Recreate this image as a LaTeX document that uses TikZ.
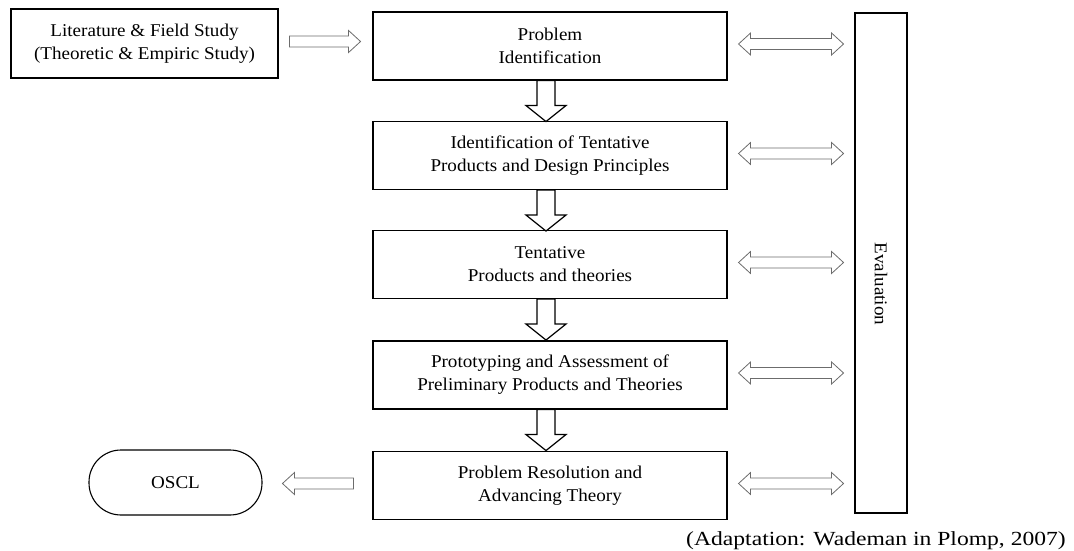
\documentclass[tikz,border=0pt]{standalone}
\usepackage{fontspec}
\setmainfont[FakeStretch=1.06]{Liberation Serif}
\newfontfamily\capfont[FakeStretch=1.18]{Liberation Serif}
\usetikzlibrary{calc}
\begin{document}
\begin{tikzpicture}[x=1pt,y=-1pt,
  txt/.style={font=\fontsize{18}{23}\selectfont},
  box/.style={draw, line width=1.1pt, minimum width=354pt, minimum height=68pt, align=center, txt, inner sep=0pt},
  hollowgray/.style={draw=gray!85!black, line width=0.8pt, fill=white},
  hollowblack/.style={draw=black, line width=1.2pt, fill=white},
  rarrow/.pic={\path[hollowgray] (0,-5.5) -- (59,-5.5) -- (59,-11) -- (71,0) -- (59,11) -- (59,5.5) -- (0,5.5) -- cycle;},
  darrow/.pic={\path[hollowblack] (-9,0) -- (-9,25) -- (-20,25) -- (0,41) -- (20,25) -- (9,25) -- (9,0) -- cycle;},
  dblarrow/.pic={\path[hollowgray] (0,0) -- (12,-11) -- (12,-5.5) -- (93,-5.5) -- (93,-11) -- (105,0) -- (93,11) -- (93,5.5) -- (12,5.5) -- (12,11) -- cycle;}
]
\useasboundingbox (0,0) rectangle (1074,551);

\node[box, minimum width=267pt, minimum height=69pt] (lit) at (144.5,43.5) {Literature \& Field Study\\(Theoretic \& Empiric Study)};
\node[box] (p1) at (550,46) {Problem\\Identification};
\node[box] (p2) at (550,155.5) {Identification of Tentative\\Products and Design Principles};
\node[box] (p3) at (550,264.5) {Tentative\\Products and theories};
\node[box] (p4) at (550,375) {Prototyping and Assessment of\\Preliminary Products and Theories};
\node[box] (p5) at (550,485.5) {Problem Resolution and\\Advancing Theory};

\node[draw, line width=1.1pt, minimum width=52pt, minimum height=500pt, inner sep=0pt] (ev) at (881,263) {};
\node[txt, rotate=-90] (evtext) at (881,284) {Evaluation};

\node[draw, line width=1.1pt, rounded corners=32pt, minimum width=173pt, minimum height=65pt, txt] (oscl) at (175.5,482.5) {OSCL};

\pic at ($(lit.east)+(11,-2)$) {rarrow};
\pic[xscale=-1] at ($(p5.west)+(-19,-2)$) {rarrow};

\foreach \a in {p1,p2,p3,p4}{
  \pic at ($(\a.south)+(-4,0)$) {darrow};
}
\foreach \a in {p1,p2,p3,p4,p5}{
  \pic at ($(\a.east)+(11,-2)$) {dblarrow};
}

\node[anchor=base east, font=\capfont\fontsize{20}{22}\selectfont, inner sep=0pt] (cap) at (1066,545) {(Adaptation: Wademan in Plomp, 2007)};
\end{tikzpicture}
\end{document}
